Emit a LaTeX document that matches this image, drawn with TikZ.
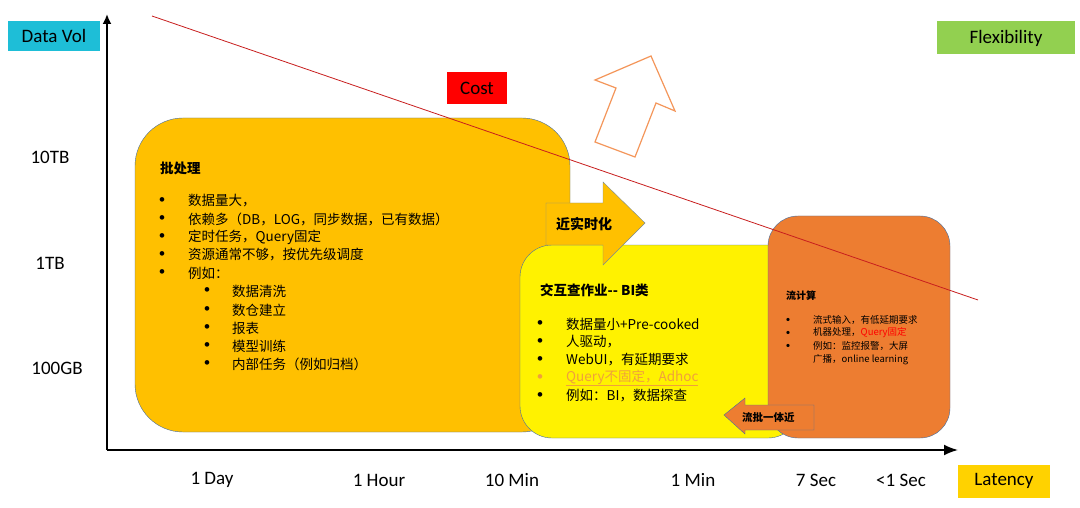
\documentclass[tikz,border=0pt]{standalone}
\usepackage{fontspec}
\usetikzlibrary{arrows.meta}
\setmainfont{Carlito}
\newfontfamily\cjk{Noto Sans CJK SC}
\begin{document}
\begin{tikzpicture}[x=1pt,y=-1pt,
  lbl/.style={font=\fontsize{19}{21}\selectfont, anchor=center},
  tagbox/.style={minimum height=30pt, inner sep=3pt, font=\fontsize{19}{21}\selectfont},
  txt/.style={anchor=west, inner sep=0pt, font=\cjk\fontsize{13.5}{15}\selectfont},
  stxt/.style={anchor=west, inner sep=0pt, font=\cjk\fontsize{9.5}{11}\selectfont},
  bul/.style={anchor=center, inner sep=0pt, font=\fontsize{13}{14}\selectfont}]
\useasboundingbox (0,0) rectangle (1080,508);
\fill[white] (0,0) rectangle (1080,508);
% boxes
\draw[fill={rgb,255:red,255;green,192;blue,0}, draw={rgb,255:red,70;green,110;blue,160}, rounded corners=48pt] (135,118) rectangle (570,432);
\draw[fill=yellow, draw={rgb,255:red,70;green,110;blue,160}, rounded corners=32pt] (520,245) rectangle (800,438);
\draw[fill={rgb,255:red,237;green,125;blue,49}, draw={rgb,255:red,70;green,110;blue,160}, rounded corners=30pt] (768,216) rectangle (950,438);
% near real-time arrow
\draw[fill={rgb,255:red,255;green,192;blue,0}, draw={rgb,255:red,120;green,140;blue,150}] (546,203) -- (603,203) -- (603,182) -- (645,223) -- (603,265) -- (603,245) -- (546,245) -- cycle;
\node[txt, font=\cjk\bfseries\fontsize{14}{15}\selectfont] (nrt) at (556,224) {近实时化};
% stream-batch arrow
\draw[fill={rgb,255:red,237;green,125;blue,49}, draw={rgb,255:red,70;green,110;blue,160}] (724,415) -- (745,398) -- (745,405) -- (814,405) -- (814,430) -- (745,430) -- (745,434) -- cycle;
\node[txt, font=\cjk\bfseries\fontsize{10.5}{12}\selectfont] (lp) at (742,418) {流批一体近};
% hollow arrow
\draw[draw={rgb,255:red,244;green,150;blue,90}, line width=1.2pt] (595,80) -- (651,56) -- (675,111) -- (656,103) -- (635,157) -- (595,142) -- (616,88) -- cycle;
% axes
\coordinate (o) at (107,450);
\coordinate (ytop) at (107,14);
\coordinate (xend) at (958,450);
\draw[line width=1.8pt, -{Latex[length=10pt,width=9pt]}] (o) -- (ytop);
\draw[line width=1.8pt, -{Latex[length=14pt,width=11pt]}] (o) -- (xend);
% cost line
\coordinate (c1) at (152,16);
\coordinate (c2) at (978,300);
\draw[draw={rgb,255:red,200;green,30;blue,30}, line width=0.8pt] (c1) -- (c2);
% tag boxes
\node[tagbox, fill={rgb,255:red,30;green,190;blue,215}, minimum width=92pt] (dv) at (54,36) {Data Vol};
\node[tagbox, fill={rgb,255:red,146;green,208;blue,80}, minimum width=138pt, minimum height=33pt] (fl) at (1006,38) {Flexibility};
\node[tagbox, fill={rgb,255:red,255;green,210;blue,0}, minimum width=92pt, minimum height=33pt] (la) at (1004,481) {Latency};
\node[tagbox, fill=red, minimum width=60pt, minimum height=32pt] (co) at (477,88) {Cost};
% axis labels
\node[lbl] (t10) at (50,157) {10TB};
\node[lbl] (t1) at (50,263) {1TB};
\node[lbl] (g100) at (57,368) {100GB};
\node[lbl] (d1) at (212,480) {1 Day};
\node[lbl] (h1) at (379,480) {1 Hour};
\node[lbl] (m10) at (512,480) {10 Min};
\node[lbl] (m1) at (693,480) {1 Min};
\node[lbl] (s7) at (816,480) {7 Sec};
\node[lbl] (s1) at (901,480) {<1 Sec};
% batch text
\node[txt, font=\cjk\bfseries\fontsize{13.5}{15}\selectfont] (bt) at (160,168) {批处理};
\foreach \y/\t [count=\i] in {201/数据量大，, 219/依赖多（DB，LOG，同步数据，已有数据）, 237/定时任务，Query固定, 255/资源通常不够，按优先级调度, 273/例如：}{
  \node[bul] (bb\i) at (162,\y) {•};
  \node[txt] (bx\i) at (188,\y) {\t};
}
\foreach \y/\t [count=\i] in {291/数据清洗, 310/数仓建立, 328/报表, 346/模型训练, 364/内部任务（例如归档）}{
  \node[bul] (sb\i) at (207,\y) {•};
  \node[txt] (sx\i) at (232,\y) {\t};
}
% interactive text
\node[txt, font=\cjk\bfseries\fontsize{13.5}{15}\selectfont] (it) at (540,290) {交互查作业-- BI类};
\foreach \y/\t [count=\i] in {324/数据量小+Pre-cooked, 342/人驱动，, 360/WebUI，有延期要求, 396/例如：BI，数据探查}{
  \node[bul] (ib\i) at (540,\y) {•};
  \node[txt] (ix\i) at (566,\y) {\t};
}
\node[bul, text={rgb,255:red,240;green,160;blue,60}] (ib5) at (540,378) {•};
\node[txt, text={rgb,255:red,240;green,160;blue,60}] (ix5) at (566,378) {\underline{Query不固定，Adhoc}};
% stream text
\node[stxt, font=\cjk\bfseries\fontsize{10}{11}\selectfont] (st) at (786,296) {流计算};
\node[bul, font=\fontsize{9}{10}\selectfont] (sb1) at (788,320) {•};
\node[stxt] (st1) at (813,320) {流式输入，有低延期要求};
\node[bul, font=\fontsize{9}{10}\selectfont] (sb2) at (788,333) {•};
\node[stxt] (st2) at (813,333) {机器处理，\textcolor{red}{Query固定}};
\node[bul, font=\fontsize{9}{10}\selectfont] (sb3) at (788,346) {•};
\node[stxt] (st3) at (813,346) {例如：监控报警，大屏};
\node[stxt] (st4) at (813,360) {广播，online learning};
\end{tikzpicture}
\end{document}
